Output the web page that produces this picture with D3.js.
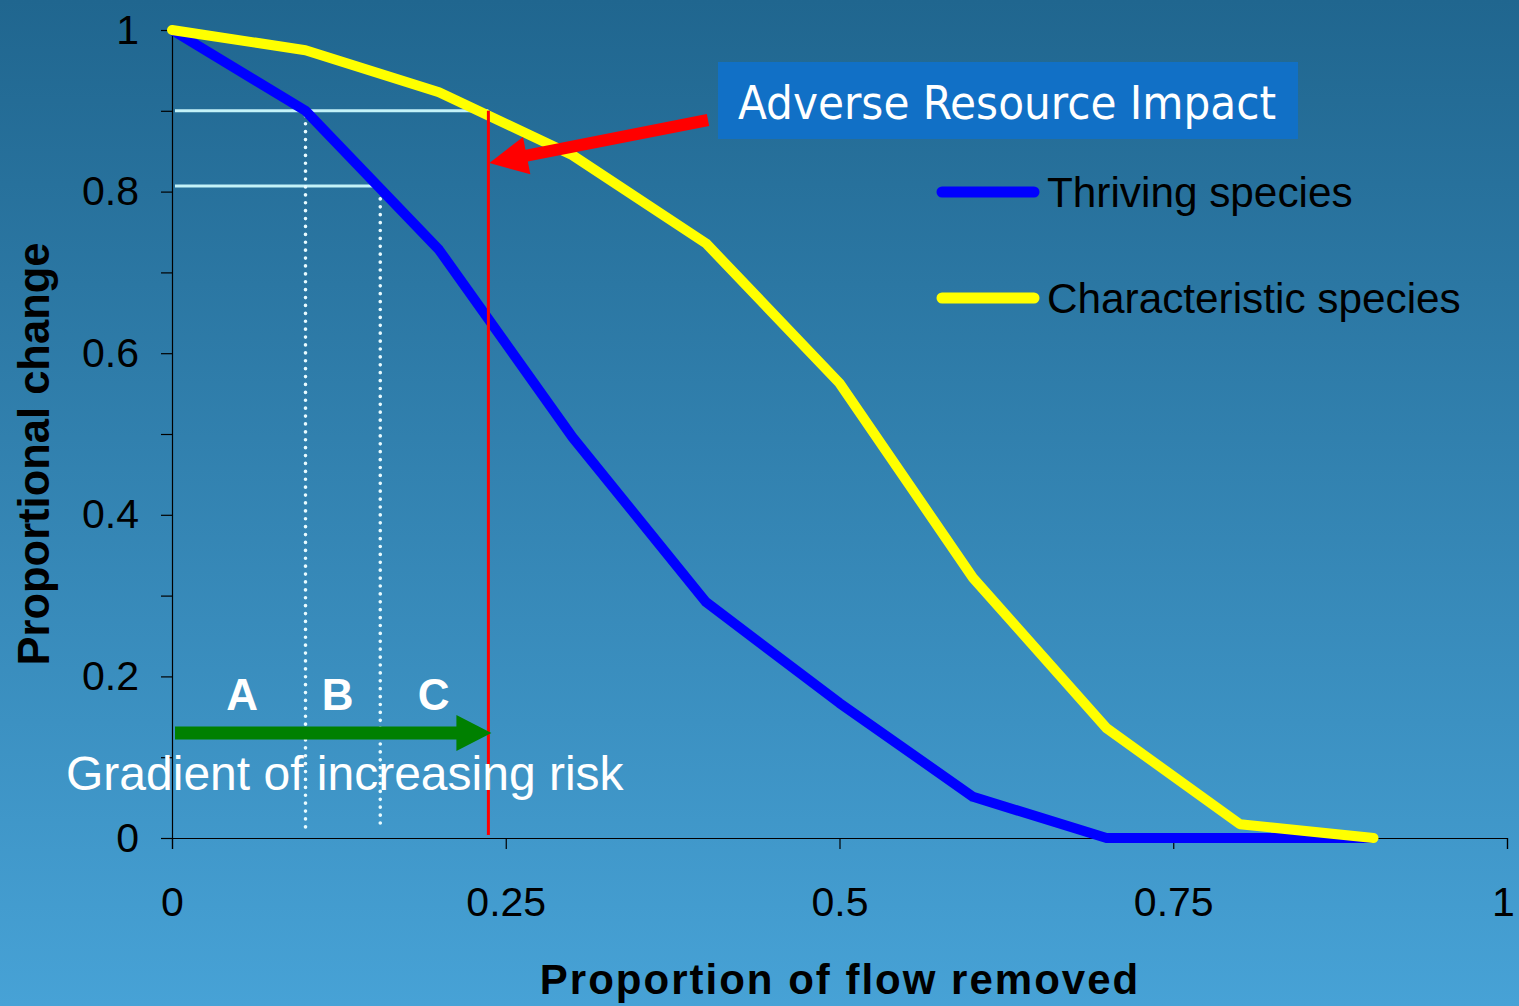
<!DOCTYPE html>
<html>
<head>
<meta charset="utf-8">
<script src="https://cdn.jsdelivr.net/npm/d3@7"></script>
<style>
  html, body { margin: 0; padding: 0; overflow: hidden; }
  svg { display: block; }
</style>
</head>
<body>
<svg id="chart" width="1519" height="1006"></svg>
<script>
// Proportion of flow removed (x) for each curve sample
const flowRemoved = [0, 0.1, 0.2, 0.3, 0.4, 0.5, 0.6, 0.7, 0.8, 0.9];
// Proportional change in each species group
const thriving = [1.0, 0.9, 0.728, 0.496, 0.292, 0.167, 0.051, 0, 0, 0];
const characteristic = [1.0, 0.975, 0.923, 0.845, 0.736, 0.563, 0.322, 0.136, 0.017, 0];
const seriesNames = ["Thriving species", "Characteristic species"];
const xTicks = [0, 0.25, 0.5, 0.75, 1];
const xTickLabels = ["0", "0.25", "0.5", "0.75", "1"];
const yTicks = [0, 0.2, 0.4, 0.6, 0.8, 1];
const yTickLabels = ["0", "0.2", "0.4", "0.6", "0.8", "1"];
const yMinorTicks = [0.1, 0.3, 0.5, 0.7, 0.9];
// Risk thresholds: flow removed where each curve crosses its limit
const thresholdA = { x: 0.1, y: 0.9 };
const thresholdB = { x: 0.156, y: 0.807 };
const impactLimit = { x: 0.237, y: 0.9 };
const zoneLabels = ["A", "B", "C"];
const zoneCenters = [0.0525, 0.124, 0.196];
const riskArrowY = 0.13;

const svg = d3.select("#chart");
const W = 1519, H = 1006;

// Background gradient
const defs = svg.append("defs");
const bg = defs.append("linearGradient").attr("id", "bg")
  .attr("x1", 0).attr("y1", 0).attr("x2", 0).attr("y2", 1);
bg.append("stop").attr("offset", "0%").attr("stop-color", "#20668f");
bg.append("stop").attr("offset", "100%").attr("stop-color", "#47a2d6");
svg.append("rect").attr("width", W).attr("height", H).attr("fill", "url(#bg)");

const x = d3.scaleLinear().domain([0, 1]).range([172, 1507]);
const y = d3.scaleLinear().domain([0, 1]).range([838, 30]);

const sans = "'Liberation Sans', Arial, sans-serif";

// Axes
const xAxis = svg.append("g").attr("transform", `translate(0,${y(0)})`)
  .call(d3.axisBottom(x).tickValues(xTicks).tickFormat((d, i) => xTickLabels[i])
    .tickSize(11).tickPadding(38));
const yAxis = svg.append("g").attr("transform", `translate(${x(0)},0)`)
  .call(d3.axisLeft(y).tickValues(yTicks).tickFormat((d, i) => yTickLabels[i])
    .tickSize(11).tickPadding(22));
svg.append("g").attr("transform", `translate(${x(0)},0)`)
  .call(d3.axisLeft(y).tickValues(yMinorTicks).tickFormat("").tickSize(11))
  .select(".domain").remove();
svg.selectAll(".domain").attr("stroke", "#000").attr("stroke-width", 1.2);
svg.selectAll(".tick line").attr("stroke", "#000").attr("stroke-width", 1.2);
xAxis.selectAll(".tick text").attr("font-family", sans).attr("font-size", 41).attr("fill", "#000");
// keep the last x label inside the frame
xAxis.selectAll(".tick text").filter((d, i) => i === xTicks.length - 1).attr("dx", -4);
yAxis.selectAll(".tick text").attr("font-family", sans).attr("font-size", 41).attr("fill", "#000");

// Axis titles
svg.append("text")
  .attr("x", 840).attr("y", 994).attr("text-anchor", "middle")
  .attr("font-family", sans).attr("font-weight", "bold")
  .attr("font-size", 42).attr("letter-spacing", 2).attr("fill", "#000")
  .text("Proportion of flow removed");
svg.append("text")
  .attr("transform", `translate(49,454) rotate(-90)`).attr("text-anchor", "middle")
  .attr("font-family", sans).attr("font-weight", "bold")
  .attr("font-size", 43.5).attr("fill", "#000")
  .text("Proportional change");

// Threshold guide lines
const guide = svg.append("g");
guide.append("line").attr("x1", 175).attr("x2", x(impactLimit.x))
  .attr("y1", y(thresholdA.y)).attr("y2", y(thresholdA.y))
  .attr("stroke", "#c4f2f8").attr("stroke-width", 3);
guide.append("line").attr("x1", 175).attr("x2", x(thresholdB.x))
  .attr("y1", y(thresholdB.y)).attr("y2", y(thresholdB.y))
  .attr("stroke", "#c4f2f8").attr("stroke-width", 3);
[thresholdA, thresholdB].forEach(t => {
  guide.append("line").attr("x1", x(t.x)).attr("x2", x(t.x))
    .attr("y1", y(t.y) + 5).attr("y2", y(0) - 8)
    .attr("stroke", "#e8fbff").attr("stroke-width", 3.6)
    .attr("stroke-linecap", "round").attr("stroke-dasharray", "0.1 7.8");
});

// Curves
const line = d3.line().x((d, i) => x(flowRemoved[i])).y(d => y(d));
svg.append("path").datum(thriving).attr("d", line)
  .attr("fill", "none").attr("stroke", "#0000ff").attr("stroke-width", 10)
  .attr("stroke-linejoin", "round");
svg.append("path").datum(characteristic).attr("d", line)
  .attr("fill", "none").attr("stroke", "#ffff00").attr("stroke-width", 10)
  .attr("stroke-linejoin", "round").attr("stroke-linecap", "round");

// Red impact line
svg.append("line").attr("x1", x(impactLimit.x)).attr("x2", x(impactLimit.x))
  .attr("y1", y(impactLimit.y)).attr("y2", y(0) - 3)
  .attr("stroke", "#ff0000").attr("stroke-width", 3);

// Arrow helper: thick shaft with triangular head
function arrow(g, x1, y1, x2, y2, shaft, headLen, headW, color) {
  const ang = Math.atan2(y2 - y1, x2 - x1);
  const len = Math.hypot(x2 - x1, y2 - y1);
  const a = g.append("g").attr("transform", `translate(${x1},${y1}) rotate(${ang * 180 / Math.PI})`);
  a.append("path")
    .attr("d", `M0,${-shaft / 2} L${len - headLen},${-shaft / 2} L${len - headLen},${-headW / 2}
      L${len},0 L${len - headLen},${headW / 2} L${len - headLen},${shaft / 2} L0,${shaft / 2} Z`)
    .attr("fill", color);
}
arrow(svg, 708, 120, x(impactLimit.x) + 1, 163, 12, 38, 38, "#ff0000");
arrow(svg, 175, y(riskArrowY), x(impactLimit.x) + 3, y(riskArrowY), 13, 35, 36, "#008000");

// Zone letters
svg.selectAll(".zone").data(zoneLabels).enter().append("text")
  .attr("x", (d, i) => x(zoneCenters[i])).attr("y", 710)
  .attr("text-anchor", "middle")
  .attr("font-family", sans).attr("font-weight", "bold")
  .attr("font-size", 44).attr("fill", "#fff").text(d => d);

svg.append("text").attr("x", 66).attr("y", 790)
  .attr("font-family", sans).attr("font-size", 48).attr("fill", "#fff")
  .text("Gradient of increasing risk");

// Adverse impact callout
svg.append("rect").attr("x", 718).attr("y", 62).attr("width", 580).attr("height", 77)
  .attr("fill", "#1170c6");
svg.append("text").attr("x", 738).attr("y", 119)
  .attr("font-family", "'DejaVu Sans Condensed', 'DejaVu Sans', sans-serif")
  .attr("font-size", 47).attr("fill", "#fff")
  .text("Adverse Resource Impact");

// Legend
const legend = svg.append("g");
const legendY = [192, 298];
const legendColors = ["#0000ff", "#ffff00"];
seriesNames.forEach((name, i) => {
  legend.append("line").attr("x1", 942).attr("x2", 1034)
    .attr("y1", legendY[i]).attr("y2", legendY[i])
    .attr("stroke", legendColors[i]).attr("stroke-width", 11).attr("stroke-linecap", "round");
  legend.append("text").attr("x", 1047).attr("y", legendY[i] + 15)
    .attr("font-family", sans).attr("font-size", 42.3).attr("fill", "#000")
    .text(name);
});
</script>
</body>
</html>
